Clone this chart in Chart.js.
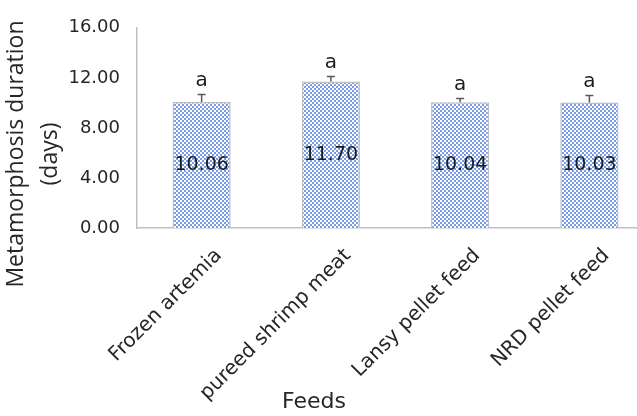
<!DOCTYPE html>
<html>
<head>
  <title>Metamorphosis duration by feed</title>
  <script src="https://cdn.jsdelivr.net/npm/chart.js"></script>
  <style>
    html, body { margin: 0; padding: 0; background: #fff; overflow: hidden; }
    #wrap { width: 637px; height: 416px; overflow: hidden; }
  </style>
</head>
<body>
  <div id="wrap"><canvas id="myChart" width="655" height="416"></canvas></div>

  <script>
    // values
    const feeds = ['Frozen artemia', 'pureed shrimp meat', 'Lansy pellet feed', 'NRD pellet feed'];
    const means = [10.06, 11.70, 10.04, 10.03];
    const errors = [0.60, 0.40, 0.30, 0.55];
    const letters = ['a', 'a', 'a', 'a'];
    const yMin = 0, yMax = 16, yStep = 4;

    const font = "'DejaVu Sans', Verdana, sans-serif";

    // small blue/white checker fill like the original bars
    function makePattern() {
      const c = document.createElement('canvas');
      c.width = 4; c.height = 4;
      const g = c.getContext('2d');
      g.fillStyle = '#789be5';
      g.fillRect(0, 0, 4, 4);
      g.fillStyle = '#ffffff';
      g.fillRect(0, 0, 2, 2);
      g.fillRect(2, 2, 2, 2);
      return g.createPattern(c, 'repeat');
    }

    // error bars, letters, values inside the bars and the axis titles
    const extras = {
      id: 'extras',
      afterDatasetsDraw(chart) {
        const ctx = chart.ctx;
        const y = chart.scales.y;
        const bars = chart.getDatasetMeta(0).data;
        ctx.save();
        bars.forEach((bar, i) => {
          const top = y.getPixelForValue(means[i] + errors[i]);
          ctx.strokeStyle = '#595959';
          ctx.lineWidth = 1.5;
          ctx.beginPath();
          ctx.moveTo(bar.x, bar.y);
          ctx.lineTo(bar.x, top);
          ctx.moveTo(bar.x - 4, top);
          ctx.lineTo(bar.x + 4, top);
          ctx.stroke();

          ctx.fillStyle = '#1a1a1a';
          ctx.textAlign = 'center';
          ctx.textBaseline = 'alphabetic';
          ctx.font = '20px ' + font;
          ctx.fillText(letters[i], bar.x, top - 9);

          ctx.textBaseline = 'middle';
          ctx.font = '19px ' + font;
          ctx.fillText(means[i].toFixed(2), bar.x, (bar.y + bar.base) / 2);
        });

        ctx.fillStyle = '#262626';
        ctx.textAlign = 'center';
        ctx.textBaseline = 'middle';
        ctx.font = "22px " + font;
        ctx.fillText('Feeds', 314, 402);

        ctx.translate(0, 154);
        ctx.rotate(-Math.PI / 2);
        ctx.font = "23px 'Open Sans', sans-serif";
        ctx.fillText('Metamorphosis duration', 0, 16);
        ctx.fillText('(days)', 0, 50);
        ctx.restore();
      }
    };

    const ctx = document.getElementById('myChart').getContext('2d');
    const myChart = new Chart(ctx, {
      type: 'bar',
      data: {
        labels: feeds,
        datasets: [{
          data: means,
          backgroundColor: makePattern(),
          borderColor: '#bfbfbf',
          borderWidth: 1.5,
          barPercentage: 0.45,
          categoryPercentage: 1
        }]
      },
      options: {
        responsive: false,
        animation: false,
        layout: { padding: { top: 18, right: 1, left: 0, bottom: 0 } },
        plugins: { legend: { display: false }, tooltip: { enabled: false } },
        scales: {
          x: {
            grid: { display: false },
            border: { color: '#bfbfbf', width: 1.5 },
            ticks: {
              color: '#262626',
              font: { family: font, size: 20 },
              minRotation: 45,
              maxRotation: 45,
              autoSkip: false,
              padding: 8,
              labelOffset: 17
            },
            afterFit(scale) { scale.height = 416 - 228; }
          },
          y: {
            min: yMin,
            max: yMax,
            grid: { display: false, drawTicks: false },
            border: { color: '#bfbfbf', width: 1.5 },
            ticks: {
              stepSize: yStep,
              color: '#262626',
              font: { family: font, size: 18 },
              padding: 17,
              callback: v => v.toFixed(2)
            },
            afterFit(scale) { scale.width = 137; }
          }
        }
      },
      plugins: [extras]
    });
  </script>
</body>
</html>
